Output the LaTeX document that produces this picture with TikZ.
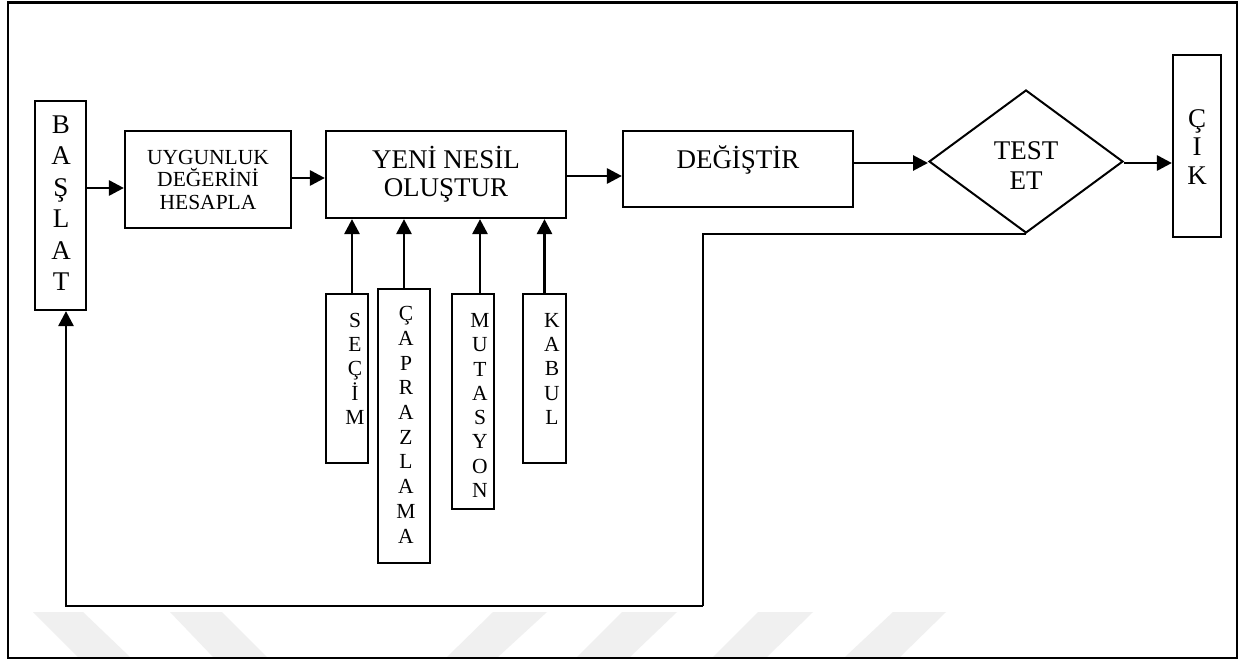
\documentclass[tikz,border=0pt]{standalone}
\usepackage{fontspec}
\setmainfont{Liberation Serif}
\usetikzlibrary{arrows.meta,shapes.geometric}

\tikzset{
  box/.style={draw, line width=2.2pt, inner sep=0pt, rectangle},
  arr/.style={line width=2.9pt, -{Triangle[length=15pt,width=15pt]}},
  ret/.style={line width=2.6pt},
  bigtxt/.style={font=\fontsize{27}{28}\selectfont, inner sep=0pt},
  midtxt/.style={font=\fontsize{21.5}{22.5}\selectfont},
  % stacked letters; the base anchor sits on the last line
  stack/.style={align=center, inner sep=0pt, anchor=base},
  wmark/.style={fill=black!6, draw=none},
}

\begin{document}
\begin{tikzpicture}[x=1pt,y=-1pt]
\useasboundingbox (0,0) rectangle (1248,661);
\fill[white] (0,0) rectangle (1248,661);

% faint background stripes
\fill[wmark] (33,612) -- (83,612) -- (130,657) -- (78,657) -- cycle;
\fill[wmark] (170,612) -- (222,612) -- (267,657) -- (213,657) -- cycle;
\fill[wmark] (493,612) -- (547,612) -- (498,657) -- (447,657) -- cycle;
\fill[wmark] (622,612) -- (677,612) -- (630,657) -- (577,657) -- cycle;
\fill[wmark] (758,612) -- (813,612) -- (767,657) -- (713,657) -- cycle;
\fill[wmark] (893,612) -- (946,612) -- (900,657) -- (845,657) -- cycle;

% outer frame
\draw[line width=2.8pt] (8,2.5) rectangle (1237,658);

% main flow boxes
\node[box, minimum width=51pt, minimum height=209pt] (basl) at (60.5,205.5) {};
\node[stack, font=\fontsize{27}{31.4}\selectfont] (baslt) at (61,290.5) {B\\A\\Ş\\L\\A\\T};

\node[box, midtxt, align=center, minimum width=166pt, minimum height=97pt] (uyg) at (208,179.5)
  {UYGUNLUK\\DEĞERİNİ\\HESAPLA};

\node[box, align=center, font=\fontsize{27}{28}\selectfont, minimum width=240pt, minimum height=87pt] (yeni) at (446,174.5)
  {YENİ NESİL\\OLUŞTUR};

\node[box, minimum width=230pt, minimum height=76pt] (deg) at (738,169) {};
\node[bigtxt, anchor=base] (degt) at (738,168) {DEĞİŞTİR};

\node[draw, line width=2pt, diamond, inner sep=0pt, minimum width=194pt, minimum height=143pt] (test) at (1026,161.5) {};
\node[stack, font=\fontsize{27}{30}\selectfont] (testt) at (1026,189) {TEST\\ET};

\node[box, minimum width=48pt, minimum height=182pt] (cik) at (1197,146) {};
\node[stack, font=\fontsize{27}{28.5}\selectfont] (cikt) at (1197,184) {Ç\\I\\K};

% operator boxes
\node[box, minimum width=42pt, minimum height=169pt] (sec) at (347,378.5) {};
\node[stack, font=\fontsize{21.5}{24.3}\selectfont] (sect) at (355,424.5) {S\\E\\Ç\\İ\\M};

\node[box, minimum width=52pt, minimum height=274pt] (cap) at (404,426) {};
\node[stack, font=\fontsize{21.5}{24.7}\selectfont] (capt) at (406,543) {Ç\\A\\P\\R\\A\\Z\\L\\A\\M\\A};

\node[box, minimum width=42pt, minimum height=215pt] (mut) at (473,401.5) {};
\node[stack, font=\fontsize{21.5}{24.3}\selectfont] (mutt) at (480,497.5) {M\\U\\T\\A\\S\\Y\\O\\N};

\node[box, minimum width=43pt, minimum height=169pt] (kab) at (544.5,378.5) {};
\node[stack, font=\fontsize{21.5}{24.3}\selectfont] (kabt) at (552,424.5) {K\\A\\B\\U\\L};

% forward connectors
\draw[arr] (basl.east |- 0,188) -- (uyg.west |- 0,188);
\draw[arr] (uyg.east |- 0,178) -- (yeni.west |- 0,178);
\draw[arr] (yeni.east |- 0,176) -- (deg.west |- 0,176);
\draw[arr] (deg.east |- 0,163) -- (test.west |- 0,163);
\draw[arr] (test.east |- 0,163) -- (cik.west |- 0,163);

% operators feeding the generation step
\draw[arr] ([xshift=5pt]sec.north) -- ([xshift=5pt]sec.north |- yeni.south);
\draw[arr] (cap.north) -- (cap.north |- yeni.south);
\draw[arr] ([xshift=7pt]mut.north) -- ([xshift=7pt]mut.north |- yeni.south);
\draw[arr] (kab.north) -- (kab.north |- yeni.south);

% loop back to the start
\coordinate (loopc) at (703,606);
\draw[ret] (test.south) -| (loopc);
\draw[arr] (loopc) -| ([xshift=5.5pt]basl.south);
\end{tikzpicture}
\end{document}
